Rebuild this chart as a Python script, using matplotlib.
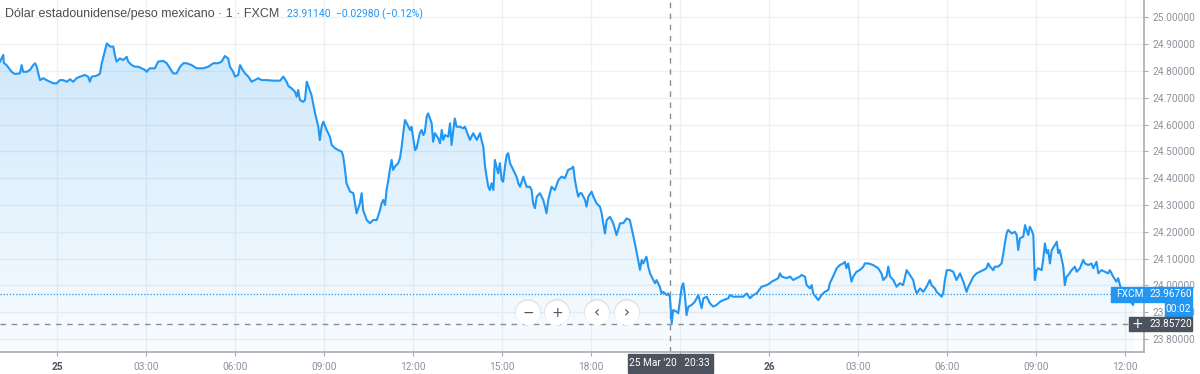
import matplotlib.pyplot as plt
import numpy as np
from matplotlib.patches import Polygon, Rectangle, Circle
from matplotlib.colors import LinearSegmentedColormap
from matplotlib.transforms import IdentityTransform

plt.rcParams['font.family'] = ['Roboto', 'DejaVu Sans']

# USD/MXN, 1-minute, FXCM -- hours counted from 25 Mar 2020 00:00
hours = [
    -1.92, -1.81, -1.79, -1.70, -1.53, -1.42, -1.25, -1.19, -1.14, -1.02, -0.91, -0.80, -0.74, -0.68,
    -0.63, -0.57, -0.46, -0.35, -0.24, -0.12, -0.01, 0.10, 0.21, 0.33, 0.44, 0.55, 0.66, 0.78, 0.94,
    1.05, 1.11, 1.17, 1.28, 1.39, 1.45, 1.51, 1.58, 1.68, 1.79, 1.90, 1.95, 2.01, 2.12, 2.23, 2.35,
    2.40, 2.52, 2.63, 2.74, 2.85, 2.97, 3.02, 3.13, 3.30, 3.41, 3.58, 3.70, 3.81, 3.92, 4.03, 4.15,
    4.26, 4.37, 4.54, 4.71, 4.93, 5.10, 5.27, 5.44, 5.55, 5.66, 5.77, 5.83, 5.94, 6.00, 6.11, 6.17,
    6.26, 6.34, 6.45, 6.56, 6.67, 6.78, 6.90, 7.07, 7.29, 7.52, 7.63, 7.74, 7.80, 7.91, 8.02, 8.08,
    8.13, 8.19, 8.30, 8.36, 8.42, 8.50, 8.58, 8.70, 8.81, 8.86, 8.92, 8.98, 9.09, 9.20, 9.26, 9.37,
    9.48, 9.60, 9.65, 9.71, 9.76, 9.88, 9.99, 10.10, 10.21, 10.27, 10.32, 10.44, 10.55, 10.66, 10.78,
    10.89, 10.94, 11.00, 11.06, 11.11, 11.17, 11.22, 11.28, 11.33, 11.39, 11.50, 11.56, 11.62, 11.67,
    11.73, 11.79, 11.90, 11.95, 12.01, 12.07, 12.12, 12.23, 12.29, 12.35, 12.40, 12.46, 12.51, 12.57,
    12.63, 12.68, 12.74, 12.85, 12.91, 12.97, 13.02, 13.08, 13.19, 13.25, 13.30, 13.36, 13.41, 13.47,
    13.58, 13.69, 13.75, 13.81, 13.92, 14.03, 14.15, 14.26, 14.31, 14.37, 14.43, 14.48, 14.54, 14.59,
    14.65, 14.71, 14.76, 14.87, 14.93, 14.99, 15.04, 15.10, 15.16, 15.21, 15.27, 15.38, 15.49, 15.55,
    15.61, 15.72, 15.83, 15.94, 16.00, 16.05, 16.11, 16.17, 16.28, 16.39, 16.45, 16.50, 16.56, 16.67,
    16.78, 16.90, 17.01, 17.12, 17.23, 17.35, 17.40, 17.46, 17.52, 17.57, 17.63, 17.68, 17.80, 17.85,
    17.91, 18.02, 18.08, 18.19, 18.30, 18.36, 18.47, 18.53, 18.64, 18.75, 18.86, 18.98, 19.09, 19.20,
    19.31, 19.37, 19.48, 19.59, 19.65, 19.71, 19.76, 19.87, 19.93, 19.99, 20.10, 20.16, 20.21, 20.32,
    20.38, 20.44, 20.55, 20.60, 20.66, 20.72, 20.77, 20.89, 20.94, 21.00, 21.06, 21.11, 21.17, 21.22,
    21.28, 21.39, 21.50, 21.62, 21.73, 21.79, 21.90, 22.01, 22.12, 22.23, 22.35, 22.46, 22.63, 22.68,
    22.79, 22.96, 23.13, 23.25, 23.36, 23.47, 23.58, 23.75, 23.92, 24.03, 24.09, 24.20, 24.31, 24.37,
    24.43, 24.59, 24.71, 24.82, 24.93, 25.04, 25.10, 25.21, 25.27, 25.38, 25.44, 25.49, 25.61, 25.66,
    25.77, 25.88, 26.00, 26.05, 26.16, 26.28, 26.39, 26.50, 26.56, 26.61, 26.67, 26.73, 26.78, 26.84,
    26.95, 27.06, 27.18, 27.23, 27.35, 27.51, 27.68, 27.79, 27.85, 27.96, 28.02, 28.08, 28.19, 28.30,
    28.41, 28.52, 28.64, 28.75, 28.86, 28.92, 28.98, 29.09, 29.20, 29.31, 29.42, 29.48, 29.59, 29.65,
    29.76, 29.82, 29.87, 29.93, 29.99, 30.10, 30.21, 30.32, 30.44, 30.55, 30.66, 30.72, 30.83, 30.89,
    31.00, 31.11, 31.22, 31.33, 31.39, 31.45, 31.56, 31.61, 31.73, 31.78, 31.84, 31.90, 31.95, 32.01,
    32.06, 32.18, 32.29, 32.35, 32.40, 32.46, 32.57, 32.63, 32.68, 32.74, 32.79, 32.85, 32.91, 32.96,
    33.02, 33.07, 33.19, 33.24, 33.30, 33.36, 33.41, 33.47, 33.53, 33.64, 33.70, 33.75, 33.80, 33.86,
    33.92, 33.97, 34.03, 34.09, 34.20, 34.31, 34.37, 34.48, 34.59, 34.65, 34.76, 34.87, 34.93, 35.04,
    35.10, 35.21, 35.32, 35.43, 35.49, 35.60, 35.71, 35.77, 35.83, 35.89, 35.94, 36.03, 36.16, 36.27,
    36.33,
]
prices = [
    24.835, 24.860, 24.830, 24.822, 24.797, 24.789, 24.791, 24.822, 24.797, 24.797, 24.804, 24.822, 24.829, 24.816,
    24.791, 24.766, 24.773, 24.766, 24.760, 24.754, 24.754, 24.766, 24.766, 24.760, 24.769, 24.760, 24.773, 24.779, 24.785,
    24.779, 24.760, 24.779, 24.781, 24.785, 24.791, 24.829, 24.860, 24.903, 24.891, 24.891, 24.860, 24.835, 24.847, 24.841, 24.853,
    24.835, 24.822, 24.816, 24.816, 24.810, 24.804, 24.797, 24.810, 24.810, 24.835, 24.838, 24.829, 24.810, 24.791, 24.791, 24.816,
    24.829, 24.829, 24.822, 24.810, 24.810, 24.816, 24.829, 24.829, 24.835, 24.856, 24.847, 24.816, 24.797, 24.779, 24.785, 24.822,
    24.804, 24.791, 24.779, 24.760, 24.766, 24.773, 24.766, 24.766, 24.764, 24.764, 24.779, 24.760, 24.744, 24.735, 24.723, 24.704,
    24.729, 24.692, 24.685, 24.692, 24.760, 24.735, 24.710, 24.642, 24.592, 24.542, 24.592, 24.611, 24.580, 24.555, 24.524, 24.512,
    24.505, 24.499, 24.480, 24.431, 24.381, 24.350, 24.344, 24.269, 24.306, 24.344, 24.281, 24.244, 24.232, 24.244, 24.244,
    24.281, 24.306, 24.319, 24.300, 24.356, 24.393, 24.431, 24.468, 24.431, 24.443, 24.456, 24.474, 24.518, 24.567,
    24.617, 24.605, 24.580, 24.592, 24.549, 24.505, 24.512, 24.568, 24.580, 24.561, 24.573, 24.629, 24.642, 24.623,
    24.605, 24.536, 24.568, 24.549, 24.530, 24.580, 24.543, 24.561, 24.555, 24.605, 24.524, 24.580, 24.623, 24.592,
    24.592, 24.586, 24.592, 24.574, 24.543, 24.568, 24.543, 24.568, 24.543, 24.518, 24.443, 24.406, 24.368, 24.356,
    24.381, 24.356, 24.468, 24.418, 24.456, 24.393, 24.387, 24.443, 24.487, 24.493, 24.456, 24.431, 24.406, 24.381,
    24.368, 24.406, 24.368, 24.368, 24.356, 24.306, 24.288, 24.331, 24.344, 24.319, 24.294, 24.269, 24.319, 24.368,
    24.356, 24.393, 24.406, 24.400, 24.431, 24.437, 24.443, 24.393, 24.356, 24.331, 24.344, 24.344, 24.319, 24.294,
    24.331, 24.350, 24.331, 24.306, 24.294, 24.269, 24.194, 24.244, 24.256, 24.232, 24.188, 24.232, 24.232, 24.250,
    24.244, 24.213, 24.157, 24.095, 24.058, 24.095, 24.082, 24.107, 24.070, 24.045, 24.020, 24.008, 24.020, 23.995,
    23.970, 23.976, 23.964, 23.970, 23.958, 23.859, 23.908, 23.902, 23.896, 23.945, 23.995, 24.008, 23.958, 23.889,
    23.920, 23.927, 23.939, 23.964, 23.915, 23.952, 23.958, 23.933, 23.921, 23.927, 23.939, 23.945, 23.952, 23.964,
    23.958, 23.958, 23.958, 23.970, 23.952, 23.964, 23.970, 23.995, 24.001, 24.008, 24.014, 24.020, 24.027, 24.045,
    24.033, 24.027, 24.033, 24.020, 24.027, 24.033, 24.039, 24.033, 24.001, 23.989, 24.001, 23.970, 23.952, 23.945,
    23.964, 23.976, 23.983, 24.008, 24.033, 24.064, 24.076, 24.082, 24.088, 24.064, 24.082, 24.045, 24.014, 24.033,
    24.051, 24.057, 24.070, 24.082, 24.082, 24.076, 24.064, 24.045, 24.020, 24.033, 24.070, 24.033, 24.020, 23.995,
    24.008, 24.001, 24.057, 24.039, 24.020, 23.989, 23.970, 23.989, 23.976, 23.995, 24.020, 24.001, 23.989, 23.976,
    23.964, 23.958, 23.970, 24.020, 24.057, 24.057, 24.051, 24.020, 24.045, 24.014, 23.976, 23.995, 24.020, 24.033,
    24.045, 24.051, 24.057, 24.064, 24.082, 24.070, 24.057, 24.070, 24.070, 24.076, 24.082, 24.120, 24.157, 24.194,
    24.207, 24.194, 24.200, 24.188, 24.132, 24.176, 24.182, 24.225, 24.207, 24.188, 24.219, 24.207, 24.188, 24.020,
    24.057, 24.064, 24.057, 24.095, 24.157, 24.120, 24.132, 24.082, 24.132, 24.151, 24.163, 24.120, 24.132, 24.101,
    24.070, 24.001, 24.033, 24.039, 24.057, 24.070, 24.051, 24.064, 24.095, 24.082, 24.076, 24.082, 24.064, 24.088,
    24.045, 24.057, 24.051, 24.045, 24.057, 24.033, 24.014, 24.027, 24.001, 23.983, 23.976, 23.960, 23.945, 23.927,
    23.9676,
]

y_ticks = [23.8, 23.9, 24.0, 24.1, 24.2, 24.3, 24.4, 24.5, 24.6, 24.7, 24.8, 24.9, 25.0]
x_ticks = [0, 3, 6, 9, 12, 15, 18, 21, 24, 27, 30, 33, 36]
x_labels = ['25', '03:00', '06:00', '09:00', '12:00', '15:00', '18:00', '',
            '26', '03:00', '06:00', '09:00', '12:00']

title = 'Dólar estadounidense/peso mexicano · 1 · FXCM'
ohlc_text = '23.91140  \u22120.02980 (\u22120.12%)'
last_price = 23.9676
cross_price = 23.8572
cross_hour = 20.65
cross_label = "25 Mar '20   20:33"
countdown = '00:02'

blue = '#2196f3'
W, H = 1200, 374

fig = plt.figure(figsize=(W / 100, H / 100), dpi=100)
ax = fig.add_axes([0, 22 / H, 1144 / W, 352 / H])
ax.set_xlim(-1.92, 36.64)
ax.set_ylim(23.7515, 25.0649)

# grid
ax.set_yticks(y_ticks)
ax.set_yticklabels([f'{v:.5f}' for v in y_ticks])
ax.set_xticks(x_ticks)
ax.set_xticklabels(x_labels)
ax.grid(True, color='#eef0f4', lw=1)
ax.set_axisbelow(True)
ax.yaxis.tick_right()
ax.tick_params(axis='y', direction='out', length=3, pad=3, labelsize=7.3,
               labelcolor='#8f929b', color='#a8abb3')
ax.tick_params(axis='x', direction='out', length=3, pad=4.5, labelsize=7.3,
               labelcolor='#8f929b', color='#a8abb3')
for lbl in ax.get_xticklabels():
    if lbl.get_text() in ('25', '26'):
        lbl.set_fontweight('bold')
        lbl.set_color('#50535e')
for s in ['top', 'left']:
    ax.spines[s].set_visible(False)
for s in ['right', 'bottom']:
    ax.spines[s].set_color('#a8abb3')
    ax.spines[s].set_linewidth(1.2)

# gradient area under the line
ymin, ymax = ax.get_ylim()
poly = Polygon(np.vstack([[hours[0], ymin], np.column_stack([hours, prices]), [hours[-1], ymin]]),
               closed=True, facecolor='none', edgecolor='none')
ax.add_patch(poly)
cmap = LinearSegmentedColormap.from_list('fade', [(0.13, 0.59, 0.95, 0.03), (0.13, 0.59, 0.95, 0.22)])
grad = np.linspace(0, 1, 256).reshape(-1, 1)
im = ax.imshow(grad, extent=[-1.92, 36.64, ymin, 24.9], origin='lower', aspect='auto',
               cmap=cmap, zorder=1, interpolation='bilinear')
im.set_clip_path(poly)
ax.set_xlim(-1.92, 36.64)
ax.set_ylim(ymin, ymax)

ax.plot(hours, prices, color=blue, lw=1.5, zorder=3, solid_joinstyle='round')

# last price dotted line and crosshair
ax.axhline(last_price, color=blue, lw=0.9, ls=(0, (1, 1.5)), zorder=2)
ax.axhline(cross_price, color='#8a8d96', lw=1, ls=(0, (4, 4)), zorder=2)
ax.axvline(cross_hour, color='#8a8d96', lw=1, ls=(0, (4, 4)), zorder=2)

fig.canvas.draw()


def px(h, v):
    return ax.transData.transform((h, v))


ID = IdentityTransform()
_, y_last = px(0, last_price)
_, y_cross = px(0, cross_price)
x_cross, _ = px(cross_hour, 0)

# right-hand labels
fig.add_artist(Rectangle((1111, y_last - 7.5), 81, 15, transform=ID, color=blue, zorder=5))
fig.text(1116, y_last, 'FXCM', transform=ID, color='white', fontsize=7.3, va='center', zorder=6)
fig.text(1150, y_last, f'{last_price:.5f}', transform=ID, color='white', fontsize=7.3, va='center', zorder=6)
fig.add_artist(Rectangle((1165, y_last - 22), 27, 14, transform=ID, color=blue, zorder=5))
fig.text(1178.5, y_last - 15, countdown, transform=ID, color='white', fontsize=7.3,
         ha='center', va='center', zorder=6)
fig.add_artist(Rectangle((1129, y_cross - 7), 63, 14, transform=ID, color='#4c525e', zorder=5))
fig.text(1137, y_cross, '+', transform=ID, color='white', fontsize=10, ha='center', va='center',
         family='DejaVu Sans', zorder=6)
fig.text(1150, y_cross, f'{cross_price:.5f}', transform=ID, color='white', fontsize=7.3,
         va='center', zorder=6)

# bottom time label
fig.add_artist(Rectangle((x_cross - 42, 1), 85, 19, transform=ID, color='#4c525e', zorder=5))
fig.text(x_cross, 10.5, cross_label, transform=ID, color='white', fontsize=7.3,
         ha='center', va='center', zorder=6)

# zoom / scroll buttons
for bx, sym in zip([528, 557, 597, 627], ['\u2212', '+', '\u2039', '\u203a']):
    fig.add_artist(Circle((bx, H - 312), 12.5, transform=ID, color='#000000', alpha=0.05, zorder=5))
    fig.add_artist(Circle((bx, H - 313), 11.5, transform=ID, color='white', zorder=5))
    fig.text(bx, H - 313, sym, transform=ID, color='#50535e', fontsize=11 if sym in '\u2039\u203a' else 10,
             ha='center', va='center', family='DejaVu Sans', zorder=6)

# header
fig.text(5, H - 14, title, transform=ID, color='#4a4d55', fontsize=9, va='center',
         family=['Liberation Sans', 'DejaVu Sans'])
fig.text(287, H - 14, ohlc_text, transform=ID, color=blue, fontsize=7.5, va='center')

fig.savefig('out.png', dpi=100, facecolor='white')
